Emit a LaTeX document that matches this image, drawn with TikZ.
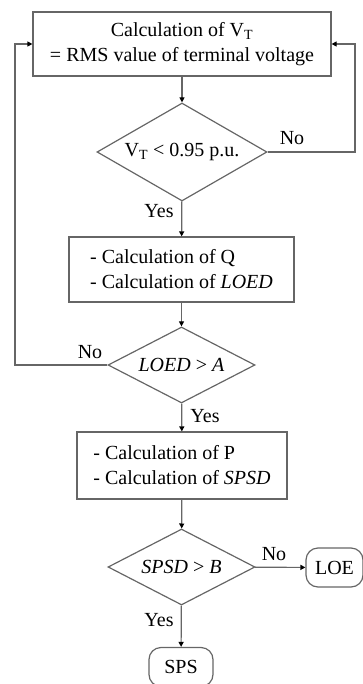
\documentclass[tikz,border=0pt]{standalone}
\usepackage{fontspec}
\setmainfont{Liberation Serif}
\usetikzlibrary{shapes.geometric,arrows.meta}

\tikzset{
  proc/.style={draw=black!60, line width=1.2pt, rectangle, inner sep=0pt},
  decision/.style={draw=black!60, line width=1.2pt, diamond, inner sep=0pt},
  term/.style={draw=black!60, line width=1.2pt, rectangle, rounded corners=12pt, inner sep=0pt},
  flow/.style={draw=black!60, line width=1.2pt, -{Triangle[length=5pt,width=5pt,color=black]}},
  lbl/.style={inner sep=0pt}
}

\begin{document}
\begin{tikzpicture}[x=1pt, y=-1pt, font=\fontsize{20}{25}\selectfont]
    \useasboundingbox (0,0) rectangle (363,684);
    % Blocks
    \node[proc, minimum width=298pt, minimum height=64pt, align=center] (calc) at (182,44)
      {Calculation of V\textsubscript{T}\\ = RMS value of terminal voltage};
    \node[decision, minimum width=170pt, minimum height=98pt] (vtest) at (182,152)
      {\makebox[0pt]{V\textsubscript{T} < 0.95 p.u.}};
    \node[proc, minimum width=225pt, minimum height=65pt, align=left] (qcalc) at (181.5,269.5)
      {- Calculation of Q\\ - Calculation of \textit{LOED}};
    \node[decision, minimum width=147pt, minimum height=76pt] (loedtest) at (181.5,365)
      {\makebox[0pt]{\textit{LOED} > \textit{A}}};
    \node[proc, minimum width=210pt, minimum height=67pt, align=left] (pcalc) at (182,465.5)
      {- Calculation of P\\ - Calculation of \textit{SPSD}};
    \node[decision, minimum width=147pt, minimum height=76pt] (spsdtest) at (181.5,567)
      {\makebox[0pt]{\textit{SPSD} > \textit{B}}};
    \node[term, minimum width=57pt, minimum height=39pt] (loe) at (334.5,567.5) {LOE};
    \node[term, minimum width=64pt, minimum height=39pt] (sps) at (181,667) {SPS};
    % Corners of the loops
    \coordinate (rcorner) at (355,152);
    \coordinate (lcorner) at (15,365);
    % Connectors
    \draw[flow] (calc) -- (vtest);
    \draw[flow] (vtest) -- (qcalc);
    \draw[flow] (vtest.east) -- (rcorner) |- (calc.east);
    \draw[flow] (qcalc) -- (loedtest);
    \draw[flow] (loedtest.west) -- (lcorner) |- (calc.west);
    \draw[flow] (loedtest) -- (pcalc);
    \draw[flow] (pcalc) -- (spsdtest);
    \draw[flow] (spsdtest) -- (loe);
    \draw[flow] (spsdtest) -- (sps);
    % Labels
    \node[lbl] (no1) at (292,138) {No};
    \node[lbl] (yes1) at (159,211) {Yes};
    \node[lbl] (no2) at (90,352) {No};
    \node[lbl] (yes2) at (205,416) {Yes};
    \node[lbl] (no3) at (274,554) {No};
    \node[lbl] (yes3) at (159,620) {Yes};
\end{tikzpicture}
\end{document}
